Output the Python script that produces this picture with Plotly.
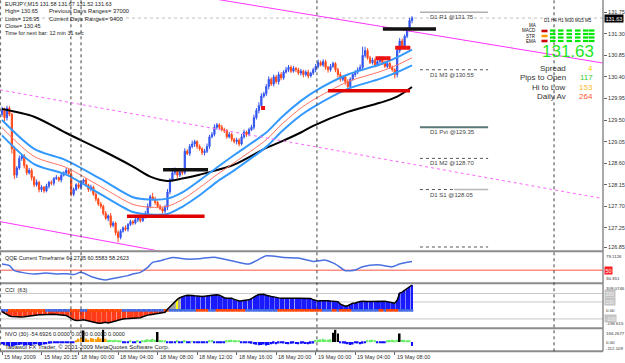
import plotly.graph_objects as go

W, H = 625, 363
PW = 603  # plot area width in px (right margin holds price labels)

# ---------------- DATA ----------------
# EURJPY M15, bar 0 = 15 May 2009 16:15
first_open = 129.62
closes = [
    129.70, 129.55, 129.75, 129.62, 128.90, 128.35, 128.50, 128.70, 128.75, 128.55,
    128.40, 128.45, 128.30, 128.15, 128.20, 128.05, 128.10, 128.02, 128.12, 128.20,
    128.18, 128.28, 128.30, 128.25, 128.35, 128.40, 128.45, 128.38, 127.95, 128.05,
    128.15, 128.10, 128.20, 128.25, 128.15, 128.05, 128.10, 127.95, 127.85, 127.75,
    127.70, 127.55, 127.45, 127.50, 127.30, 127.35, 127.15, 127.05, 127.18, 127.25,
    127.22, 127.32, 127.38, 127.35, 127.42, 127.45, 127.40, 127.48, 127.55, 127.70,
    127.90, 127.85, 127.78, 127.70, 127.65, 127.60, 127.68, 128.00, 128.25, 128.40,
    128.45, 128.35, 128.42, 128.40, 128.85, 128.80, 128.95, 129.00, 129.05, 128.95,
    128.90, 128.82, 128.85, 128.95, 129.15, 129.20, 129.35, 129.40, 129.35, 129.30,
    129.28, 129.15, 129.20, 129.10, 129.05, 129.08, 129.00, 129.15, 129.25, 129.20,
    129.30, 129.35, 129.55, 129.70, 129.80, 130.00, 130.05, 130.20, 130.35, 130.25,
    130.40, 130.30, 130.45, 130.38, 130.50, 130.55, 130.60, 130.52, 130.58, 130.55,
    130.48, 130.52, 130.45, 130.50, 130.42, 130.48, 130.55, 130.62, 130.70, 130.65,
    130.72, 130.60, 130.55, 130.62, 130.68, 130.55, 130.45, 130.35, 130.40, 130.30,
    130.20, 130.35, 130.45, 130.50, 130.55, 130.60, 130.85, 130.95, 130.80, 130.70,
    130.75, 130.65, 130.72, 130.78, 130.70, 130.62, 130.68, 130.60, 130.55, 130.45,
    130.95, 131.15, 131.05, 131.25, 131.38, 131.58, 131.63,
]
up_wick = [  # pips above candle body
    8, 6, 5, 4, 3, 5, 4, 6, 3, 4,
    3, 5, 4, 3, 6, 3, 4, 2, 5, 3,
    4, 3, 5, 2, 4, 3, 5, 3, 6, 4,
    3, 5, 4, 3, 4, 2, 5, 3, 4, 3,
    4, 3, 5, 3, 6, 4, 3, 5, 4, 3,
    5, 3, 4, 3, 5, 4, 3, 4, 5, 6,
    4, 8, 5, 3, 4, 3, 5, 6, 4, 5,
    6, 4, 5, 3, 6, 4, 5, 7, 4, 3,
    4, 3, 5, 6, 4, 5, 6, 4, 3, 5,
    4, 3, 5, 4, 3, 5, 4, 6, 5, 3,
    4, 5, 6, 5, 7, 6, 4, 5, 6, 4,
    5, 4, 6, 5, 4, 6, 5, 4, 5, 3,
    4, 5, 3, 4, 5, 3, 4, 5, 6, 4,
    5, 4, 3, 5, 4, 3, 4, 5, 3, 4,
    5, 4, 3, 4, 5, 6, 18, 8, 5, 4,
    5, 4, 3, 5, 4, 3, 4, 3, 4, 3,
    8, 6, 5, 4, 5, 5, 4,
]
dn_wick = [  # pips below candle body
    5, 8, 6, 4, 10, 8, 6, 4, 5, 6,
    5, 4, 6, 5, 4, 6, 5, 4, 3, 5,
    4, 5, 3, 4, 5, 3, 4, 6, 5, 4,
    3, 4, 5, 4, 3, 5, 4, 3, 5, 4,
    5, 4, 3, 6, 5, 4, 6, 10, 4, 3,
    4, 5, 3, 4, 3, 5, 4, 3, 4, 5,
    4, 3, 5, 4, 3, 5, 4, 6, 5, 4,
    5, 6, 4, 5, 4, 3, 5, 4, 6, 5,
    4, 5, 6, 4, 5, 3, 4, 5, 6, 4,
    5, 4, 3, 5, 4, 6, 5, 3, 4, 5,
    4, 3, 5, 4, 6, 5, 4, 5, 6, 4,
    5, 4, 6, 5, 4, 3, 5, 4, 3, 5,
    4, 5, 6, 4, 5, 3, 4, 5, 4, 3,
    4, 5, 6, 4, 3, 5, 6, 5, 4, 6,
    5, 4, 3, 5, 4, 3, 6, 5, 4, 3,
    4, 5, 3, 4, 5, 3, 4, 3, 4, 8,
    6, 5, 4, 5, 4, 3, 6,
]

# moving averages read at sample bars
ma_black_bars = [0, 13, 26, 40, 53, 60, 67, 73, 80, 94, 107, 113, 121, 126, 140, 153, 160, 166]
ma_black = [129.73, 129.57, 129.23, 128.88, 128.53, 128.32, 128.23, 128.28, 128.36, 128.57,
            128.92, 129.05, 129.24, 129.38, 129.67, 129.86, 129.99, 130.19]
band_bars = [0, 13, 26, 40, 53, 60, 67, 73, 80, 87, 94, 107, 113, 121, 126, 140, 153, 160, 166]
band_upper = [129.50, 128.90, 128.66, 128.27, 127.89, 127.84, 127.86, 127.99, 128.24, 128.51,
              128.77, 129.24, 129.55, 129.90, 130.08, 130.45, 130.66, 130.81, 130.97]
band_mid = [129.34, 128.74, 128.51, 128.11, 127.74, 127.68, 127.70, 127.84, 128.09, 128.36,
            128.61, 129.09, 129.40, 129.75, 129.92, 130.30, 130.51, 130.65, 130.80]
band_lower = [129.18, 128.58, 128.36, 127.95, 127.58, 127.53, 127.54, 127.69, 127.93, 128.21,
              128.45, 128.94, 129.25, 129.60, 129.77, 130.15, 130.36, 130.50, 130.64]

# support / resistance segments
red_levels, red_from, red_to = [127.49, 130.11], [50.6, 132.0], [82.0, 165.2]
black_levels, black_from, black_to = [128.46, 131.40], [65.2, 154.2], [83.4, 175.7]

# magenta channel lines (bar, price endpoints)
chan_top_bars, chan_top = [80, 243.3], [132.08, 130.69]
chan_mid_bars, chan_mid = [-0.81, 243.3], [130.13, 127.86]
chan_bot_bars, chan_bot = [-0.81, 80], [127.38, 126.61]

# daily pivots
pivot_names = ["D1 R1", "D1 M3", "D1 Pvt", "D1 M2", "D1 S1", "D1 M1"]
pivot_values = [131.75, 130.55, 129.35, 128.70, 128.05, 126.85]
pivot_from, pivot_to = 169.2, 196.8

# signal boxes
sig_bars = [105.7, 152, 153.5, 155, 156.5, 160, 161.5, 163, 164.5]
sig_prices = [129.75, 130.79, 130.79, 130.79, 130.79, 131.01, 131.01, 131.01, 131.01]

bid = 131.63
price_ticks = [131.75, 131.30, 130.85, 130.40, 129.95, 129.50, 129.05, 128.60, 128.15, 127.70, 127.25, 126.85]

time_label_bars = [0, 16, 31, 47, 63, 79, 95, 111, 127, 143, 159]
time_labels = ["15 May 2009", "15 May 20:15", "18 May 00:00", "18 May 04:00", "18 May 08:00",
               "18 May 12:00", "18 May 16:00", "18 May 20:00", "19 May 00:00", "19 May 04:00",
               "19 May 08:00"]
separator_bars = [27.9, 32.0, 127.5, 223.5]

# QQE
qqe_bars = [0, 3, 5, 8, 13, 18, 22, 26, 29, 32, 37, 42, 46, 51, 53, 56, 59, 61, 64, 69,
            75, 80, 86, 93, 100, 107, 114, 120, 126, 131, 135, 139, 143, 146, 152, 158, 161, 166]
qqe_vals = [60.2, 57.5, 49.4, 46.6, 44.0, 45.5, 44.0, 44.5, 43.0, 46.6, 38.5, 34.2, 37.5, 41.3,
            44.0, 46.6, 54.7, 62.9, 65.5, 71.0, 68.3, 69.0, 71.5, 65.6, 60.2, 73.7, 71.0, 70.0,
            64.5, 66.6, 60.2, 49.4, 50.4, 55.9, 59.2, 55.9, 60.2, 64.27]

# CCI(63) per bar
cci = [
    -15, -35, -55, -65, -72, -75, -78, -80, -78, -75,
    -70, -65, -60, -58, -55, -52, -50, -48, -45, -45,
    -42, -45, -48, -50, -52, -55, -60, -75, -95, -110,
    -118, -120, -115, -110, -118, -125, -130, -140, -148, -150,
    -152, -145, -140, -148, -142, -135, -125, -115, -105, -100,
    -98, -95, -96, -92, -95, -90, -85, -75, -62, -55,
    -50, -45, -42, -40, -35, -30, -22, 15, 45, 70,
    95, 130, 150, 165, 172, 178, 180, 176, 172, 168,
    165, 165, 168, 172, 178, 184, 186, 184, 180, 160,
    150, 145, 142, 145, 130, 118, 112, 114, 116, 118,
    125, 140, 160, 175, 188, 192, 190, 180, 170, 165,
    160, 150, 148, 145, 146, 148, 145, 142, 146, 145,
    144, 145, 143, 140, 145, 142, 125, 115, 112, 114,
    116, 112, 114, 110, 106, 105, 104, 75, 60, 50,
    55, 68, 86, 88, 100, 106, 108, 110, 106, 104,
    106, 108, 106, 104, 106, 108, 104, 100, 88, 86,
    120, 204, 215, 235, 250, 275, 300,
]
cci_gray_bars = [67, 68, 69, 70, 72]
cci_yellow_bars = [71]
strip_runs = [("b", 3), ("r", 15), ("b", 10), ("r", 4), ("b", 3), ("r", 14), ("b", 17), ("r", 2),
              ("b", 11), ("r", 5), ("b", 3), ("r", 12), ("b", 13), ("r", 18), ("b", 4), ("r", 2),
              ("b", 1), ("r", 5), ("b", 11), ("r", 2), ("b", 1), ("r", 5), ("b", 6)]

# NVO(30) per bar
nvo = [
    -30, -45, -40, -55, -60, -50, -45, -40, -35, -50,
    -45, -40, -50, -35, -30, -45, -40, -35, -30, -25,
    -20, -15, -10, -12, -8, -10, -5, -8, -15, -10,
    20, 40, 55, 150, 45, 30, 50, 40, 35, 60,
    45, 160, 40, 25, 30, 20, 28, 22, 15, -5,
    -8, -6, 10, -5, -8, 12, -6, 20, 25, 35,
    30, 38, 28, 130, 25, 20, 15, -10, -15, -12,
    -8, 10, -10, -15, 12, -8, -12, 8, -10, -15,
    -12, -10, -15, -8, 12, 25, -10, -12, -8, -15,
    -10, 20, 25, 30, 22, 18, 10, -8, -10, -12,
    -15, -25, -30, -38, -45, -40, -35, -48, -40, -30,
    -25, -30, -20, -15, -22, -28, -30, -25, -20, -28,
    -30, -25, -22, -28, -30, -25, -20, 25, 30, 35,
    40, 30, 28, 35, 120, 160, 110, -15, -20, -25,
    -30, -40, -35, -15, -20, -30, -25, -10, 15, 25,
    30, 20, -10, -15, -12, -8, 20, 25, 30, 22,
    30, 110, 28, 25, 20, 15, -54.69,
]
nvo_orange_first, nvo_orange_last = 30, 42

n = len(closes)
assert len(up_wick) == n and len(dn_wick) == n and len(cci) == n and len(nvo) == n
assert sum(r for _, r in strip_runs) == n
assert len(qqe_bars) == len(qqe_vals)

bars = list(range(n))
opens = [first_open] + closes[:-1]
highs = [round(max(o, c) + u / 100, 2) for o, c, u in zip(opens, closes, up_wick)]
lows = [round(min(o, c) - d / 100, 2) for o, c, d in zip(opens, closes, dn_wick)]

# ---------------- GEOMETRY ----------------
def ypx(p):
    return 1 - p / H

def xpx(p):
    return p / PW

X_RANGE = [-0.81, 243.32]
MAIN_DOM = [ypx(250.5), 1]
QQE_DOM = [ypx(282.3), ypx(252.5)]
CCI_DOM = [ypx(327.3), ypx(284.3)]
NVO_DOM = [ypx(350.5), ypx(329.2)]
MAIN_RANGE = [126.777, 132.006]
QQE_RANGE = [30.351, 79.1126]
CCI_RANGE = [-198.615, 308.0746]
NVO_RANGE = [-112.109, 166.2677]

FONT = "Liberation Sans"
BLUE_C, RED_C = "#3355ee", "#ff4a1a"

fig = go.Figure()

# ---- main panel ----
fig.add_trace(go.Candlestick(
    x=bars, open=opens, high=highs, low=lows, close=closes,
    increasing=dict(line=dict(color=BLUE_C, width=1), fillcolor=BLUE_C),
    decreasing=dict(line=dict(color=RED_C, width=1), fillcolor=RED_C),
    whiskerwidth=0, xaxis="x", yaxis="y", hoverinfo="skip"))

fig.add_trace(go.Scatter(x=ma_black_bars, y=ma_black, mode="lines",
                         line=dict(color="black", width=2, shape="spline", smoothing=0.8),
                         xaxis="x", yaxis="y"))
for vals, col, wd in [(band_upper, "#3399ff", 2), (band_mid, "#ff7060", 1), (band_lower, "#3399ff", 2)]:
    fig.add_trace(go.Scatter(x=band_bars, y=vals, mode="lines",
                             line=dict(color=col, width=wd, shape="spline", smoothing=0.8),
                             xaxis="x", yaxis="y"))

fig.add_trace(go.Scatter(x=chan_top_bars, y=chan_top, mode="lines",
                         line=dict(color="#ff33ff", width=1), xaxis="x", yaxis="y"))
fig.add_trace(go.Scatter(x=chan_mid_bars, y=chan_mid, mode="lines",
                         line=dict(color="#ff66ff", width=1, dash="dot"), xaxis="x", yaxis="y"))
fig.add_trace(go.Scatter(x=chan_bot_bars, y=chan_bot, mode="lines",
                         line=dict(color="#ff33ff", width=1), xaxis="x", yaxis="y"))

def seg_xy(levels, f, t):
    xs, ys = [], []
    for lv, a, b in zip(levels, f, t):
        xs += [a, b, None]
        ys += [lv, lv, None]
    return xs, ys

rx, ry = seg_xy(red_levels, red_from, red_to)
fig.add_trace(go.Scatter(x=rx, y=ry, mode="lines", line=dict(color="#e00000", width=3.5),
                         xaxis="x", yaxis="y"))
bx, by = seg_xy(black_levels, black_from, black_to)
fig.add_trace(go.Scatter(x=bx, y=by, mode="lines", line=dict(color="#111111", width=3.5),
                         xaxis="x", yaxis="y"))

pivot_style = {"D1 R1": ("#b0b0b0", 1.5, "solid"), "D1 M3": ("#555555", 1, "dot"),
               "D1 Pvt": ("#5a7676", 2, "solid"), "D1 M2": ("#555555", 1, "dot"),
               "D1 S1": ("#555555", 1, "dot"), "D1 M1": ("#555555", 1, "dot")}
for name, val in zip(pivot_names, pivot_values):
    c, wd, ds = pivot_style[name]
    fig.add_trace(go.Scatter(x=[pivot_from, pivot_to], y=[val, val], mode="lines",
                             line=dict(color=c, width=wd, dash=ds), xaxis="x", yaxis="y"))
fig.add_trace(go.Scatter(x=[(pivot_from + pivot_to) / 2, pivot_to], y=[pivot_values[4]] * 2,
                         mode="lines", line=dict(color="#b8b8b8", width=1.5), xaxis="x", yaxis="y"))

fig.add_trace(go.Scatter(x=sig_bars, y=sig_prices, mode="markers",
                         marker=dict(symbol="square", size=4, color="#ee1111", line=dict(width=0)),
                         xaxis="x", yaxis="y"))

# ---- QQE ----
fig.add_trace(go.Scatter(x=qqe_bars, y=qqe_vals, mode="lines",
                         line=dict(color="#4a6fe0", width=1.5, shape="spline", smoothing=0.6),
                         xaxis="x2", yaxis="y2"))

# ---- CCI ----
cci_cols = []
for i, v in enumerate(cci):
    if i in cci_yellow_bars:
        cci_cols.append("#ffff00")
    elif i in cci_gray_bars:
        cci_cols.append("#a0a0a0")
    elif v >= 0:
        cci_cols.append("#1a1aff")
    else:
        cci_cols.append("#ff3b1a")
fig.add_trace(go.Bar(x=bars, y=cci, marker=dict(color=cci_cols, line=dict(width=0)), width=0.75,
                     xaxis="x3", yaxis="y3"))
strip_cols = []
for code, run in strip_runs:
    strip_cols += ["#4169e1" if code == "b" else "#ff4500"] * run
fig.add_trace(go.Bar(x=bars, y=[32] * n, base=-16, marker=dict(color=strip_cols, line=dict(width=0)),
                     width=1.0, xaxis="x3", yaxis="y3"))
fig.add_trace(go.Scatter(x=bars, y=cci, mode="lines", line=dict(color="black", width=1.5),
                         xaxis="x3", yaxis="y3"))

# ---- NVO ----
nvo_cols = []
for i, v in enumerate(nvo):
    if v < 0:
        nvo_cols.append("#1010ff")
    elif v >= 100:
        nvo_cols.append("#000000")
    elif nvo_orange_first <= i <= nvo_orange_last:
        nvo_cols.append("#ff9900")
    else:
        nvo_cols.append("#66ee66")
fig.add_trace(go.Bar(x=bars, y=nvo, marker=dict(color=nvo_cols, line=dict(width=0)), width=0.7,
                     xaxis="x4", yaxis="y4"))

# ---------------- LAYOUT ----------------
axis_common = dict(showgrid=False, zeroline=False, showline=False, range=X_RANGE, fixedrange=True)
yc = dict(showgrid=False, zeroline=False, showline=False, fixedrange=True)

fig.update_layout(
    width=W, height=H, margin=dict(l=0, r=W - PW, t=0, b=0),
    paper_bgcolor="white", plot_bgcolor="white", showlegend=False,
    barmode="overlay", font=dict(family=FONT, size=6, color="#222"),
    xaxis=dict(anchor="y", showticklabels=False, rangeslider=dict(visible=False), **axis_common),
    xaxis2=dict(anchor="y2", matches="x", showticklabels=False, **axis_common),
    xaxis3=dict(anchor="y3", matches="x", showticklabels=False, **axis_common),
    xaxis4=dict(anchor="y4", matches="x", showticklabels=False, tickmode="array",
                tickvals=time_label_bars, ticks="outside", ticklen=3, tickcolor="#666",
                **axis_common),
    yaxis=dict(domain=MAIN_DOM, range=MAIN_RANGE, side="right", anchor="x", tickmode="array",
               tickvals=price_ticks, ticktext=[f"{v:.2f}" for v in price_ticks],
               ticks="outside", ticklen=3, tickcolor="#666",
               tickfont=dict(size=5.5, color="#333", family=FONT), **yc),
    yaxis2=dict(domain=QQE_DOM, range=QQE_RANGE, anchor="x2", showticklabels=False, **yc),
    yaxis3=dict(domain=CCI_DOM, range=CCI_RANGE, anchor="x3", showticklabels=False, **yc),
    yaxis4=dict(domain=NVO_DOM, range=NVO_RANGE, anchor="x4", showticklabels=False, **yc),
)

shapes = []
# panel separators and frame
for p in [251.3, 283.3, 328.2, 351.3]:
    shapes.append(dict(type="line", xref="paper", yref="paper", x0=0, x1=1, y0=ypx(p), y1=ypx(p),
                       line=dict(color="#8c8c8c", width=2)))
shapes.append(dict(type="line", xref="paper", yref="paper", x0=1, x1=1, y0=ypx(351.3), y1=1,
                   line=dict(color="#8c8c8c", width=1.5)))
shapes.append(dict(type="line", xref="paper", yref="paper", x0=0.001, x1=0.001, y0=ypx(351.3), y1=1,
                   line=dict(color="#666", width=1, dash="dot")))
for b in separator_bars:
    shapes.append(dict(type="line", xref="x", yref="paper", x0=b, x1=b, y0=ypx(351.3), y1=1,
                       line=dict(color="#404040", width=1, dash="dot")))
# bid line
shapes.append(dict(type="line", xref="paper", yref="y", x0=0, x1=1, y0=bid, y1=bid,
                   line=dict(color="#c0c0c0", width=1, dash="dot"), layer="below"))
# QQE level 50
shapes.append(dict(type="line", xref="paper", yref="y2", x0=0, x1=1, y0=50, y1=50,
                   line=dict(color="#ff8c80", width=1.5), layer="below"))
# CCI levels
for lv in [200, 100, -100]:
    shapes.append(dict(type="line", xref="paper", yref="y3", x0=0, x1=1, y0=lv, y1=lv,
                       line=dict(color="#c8c8c8", width=1), layer="below"))
# dashboard green dashes
for row in [30.5, 34.0, 37.5, 41.0]:
    for cx in [550, 558, 566.5, 575, 583, 589]:
        shapes.append(dict(type="rect", xref="paper", yref="paper", x0=xpx(cx), x1=xpx(cx + 5.5),
                           y0=ypx(row + 1.1), y1=ypx(row - 1.1), line=dict(width=0),
                           fillcolor="#00e600"))
for row, col in [(31.0, "#cc0000"), (36.0, "#ff9900"), (41.0, "#cc0000")]:
    shapes.append(dict(type="rect", xref="paper", yref="paper", x0=xpx(541.5), x1=xpx(547.5),
                       y0=ypx(row + 1.3), y1=ypx(row - 1.3), line=dict(width=0), fillcolor=col))
fig.update_layout(shapes=shapes)

ann = []

def txt(text, x, y, size=5.5, color="#222", xanchor="left", yanchor="middle", xref="paper",
        yref="paper", bg=None, bold=False):
    d = dict(text=("<b>%s</b>" % text) if bold else text, x=x, y=y, xref=xref, yref=yref,
             showarrow=False, xanchor=xanchor, yanchor=yanchor,
             font=dict(family=FONT, size=size, color=color))
    if bg:
        d.update(bgcolor=bg, borderpad=0.5)
    ann.append(d)

# header
txt("EURJPY,M15 131.58 131.67 131.52 131.63", xpx(3), ypx(4))
txt("High= 130.65", xpx(3), ypx(11))
txt("Previous Days Ranges= 37000", xpx(47), ypx(11), size=5.8)
txt("Lows= 126.95", xpx(3), ypx(18.5))
txt("Current Days Ranges= 9400", xpx(47), ypx(18.5), size=5.8)
txt("Close= 130.45", xpx(3), ypx(26))
txt("Time for next bar: 12 min 31 sec", xpx(3), ypx(33))

# panel titles
txt("QQE Current Timeframe 64.2735 60.5583 58.2623", xpx(3), ypx(258))
txt("CCI  (63)", xpx(3), ypx(289.5))
txt("NVO (30) -54.6926 0.0000 0.0000 0.0000 0.0000", xpx(3), ypx(334))
txt("Tadawul FX Trader, © 2001-2009 MetaQuotes Software Corp.", xpx(3), ypx(346.5), size=6)

# sub-panel axis labels
RX = xpx(604)
for t, p in [("79.1126", 256.5), ("30.351", 278), ("308.0746", 288), ("0.00", 310.7),
             ("-198.615", 323.5), ("166.2677", 333), ("0.00", 342.5), ("-112.109", 348.5)]:
    txt(t, RX, ypx(p), size=4.4, color="#333")
txt("50", RX, 50, yref="y2", size=5.5, color="#ffffff", bg="#ff2020")
for lv in [200, 100, -100]:
    txt(str(lv), RX, lv, yref="y3", size=5, color="#f4f4f4", bg="#c4c4c4")
txt("131.63", RX, bid, yref="y", size=5.5, color="#ffffff", bg="#000000")

# time labels
for b, t in zip(time_label_bars, time_labels):
    txt(t, b, ypx(357), xref="x4", size=5.5, color="#333")

# pivot labels
for name, val in zip(pivot_names[:-1], pivot_values[:-1]):
    txt(f"{name} @{val:.2f}", 172.6, val, xref="x", yref="y", size=6, color="#444",
        yanchor="top")

# dashboard
txt("D1 H4 H1 M30 M15 M5", xpx(594), ypx(20.5), size=4.5, color="#111", xanchor="right")
for t, p in [("MA", 25.5), ("MACD", 31), ("STR", 36), ("EMA", 41)]:
    txt(t, xpx(538), ypx(p), size=4.5, color="#111", xanchor="right")
txt("131.63", xpx(568), ypx(51.5), size=17, color="#22e622", xanchor="center")
for lab, val, col, p in [("Spread", "4", "#ffcc00", 68), ("Pips to Open", "117", "#33cc33", 78),
                         ("Hi to Low", "153", "#ffbb22", 87.5), ("Daily Av", "264", "#ff5533", 96.5)]:
    txt(lab, xpx(568), ypx(p), size=8, color="#333", xanchor="right")
    txt(val, xpx(595), ypx(p), size=8, color=col, xanchor="right")

fig.update_layout(annotations=ann)
fig.write_html("out.html")
